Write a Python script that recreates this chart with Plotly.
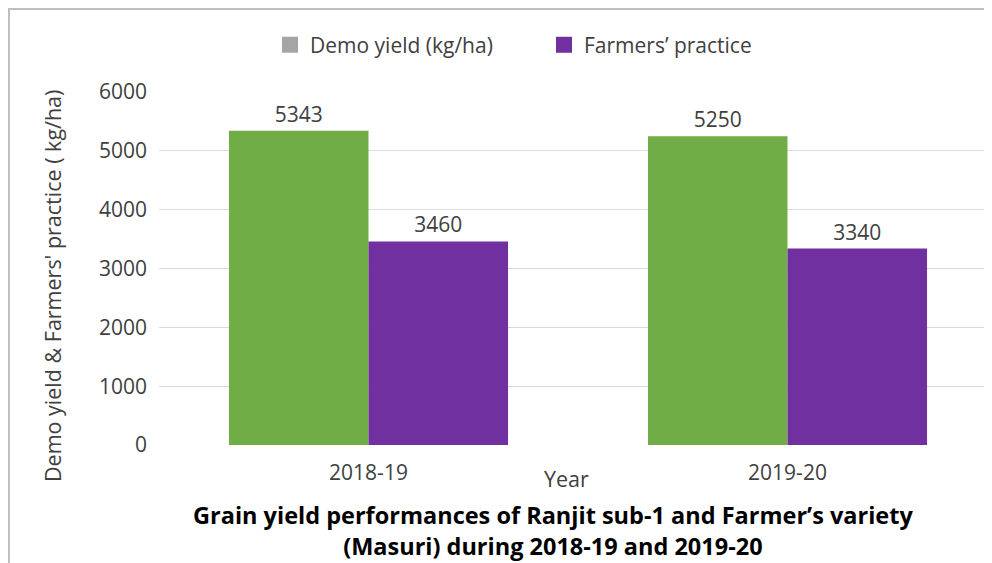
import plotly.graph_objects as go

years = ["2018-19", "2019-20"]
demo_yield = [5343, 5250]
farmers_practice = [3460, 3340]
y_ticks = [0, 1000, 2000, 3000, 4000, 5000, 6000]

FONT = "Open Sans"
TXT = "#404040"

OFF = 8  # page body margin
W, H = 984, 555
L, R, T = 151, 0, 84
B = H - (445 - OFF)
pw, ph = W - L - R, H - T - B

def px_x(x):
    return (x - OFF - L) / pw

def px_y(y):
    return (H - B - (y - OFF)) / ph

fig = go.Figure()
fig.add_trace(go.Bar(
    x=years, y=demo_yield, name="Demo yield (kg/ha)", showlegend=False,
    marker=dict(color="#70AD47", line=dict(width=0)), width=0.333, offset=-0.333,
    text=[str(v) for v in demo_yield], textposition="outside",
    textfont=dict(family=FONT, size=21, color=TXT), cliponaxis=False,
))
fig.add_trace(go.Bar(
    x=years, y=farmers_practice, name="Farmers’ practice", showlegend=False,
    marker=dict(color="#7030A0", line=dict(width=0)), width=0.333, offset=0,
    text=[str(v) for v in farmers_practice], textposition="outside",
    textfont=dict(family=FONT, size=21, color=TXT), cliponaxis=False,
))
fig.add_trace(go.Scatter(
    x=[None], y=[None], mode="markers", name="Demo yield (kg/ha)",
    marker=dict(symbol="square", size=17, color="#A5A5A5"),
))
fig.add_trace(go.Scatter(
    x=[None], y=[None], mode="markers", name="Farmers’ practice",
    marker=dict(symbol="square", size=17, color="#7030A0"),
))

fig.update_layout(
    width=W, height=H,
    margin=dict(l=L, r=R, t=T, b=B),
    paper_bgcolor="white", plot_bgcolor="white",
    font=dict(family=FONT, size=21, color=TXT),
    legend=dict(orientation="h", x=px_x(270), xanchor="left",
                y=px_y(45), yanchor="middle",
                font=dict(family=FONT, size=21, color=TXT),
                itemwidth=30, traceorder="normal", entrywidth=229,
                entrywidthmode="pixels"),
    xaxis=dict(type="category", range=[-0.5, -0.5 + pw / 419],
               showgrid=False, showline=False, ticks="", ticklabelstandoff=13,
               tickfont=dict(family=FONT, size=21, color=TXT)),
    yaxis=dict(range=[0, 6000], tickvals=y_ticks, showgrid=True,
               gridcolor="#D9D9D9", gridwidth=1, zeroline=False,
               showline=False, ticks="", ticklabelstandoff=11,
               tickfont=dict(family=FONT, size=21, color=TXT)),
    shapes=[dict(type="rect", xref="paper", yref="paper",
                 x0=px_x(9), x1=px_x(1100), y0=px_y(700), y1=px_y(9),
                 line=dict(color="#BFBFBF", width=2), layer="below")],
    annotations=[
        dict(text="Demo yield & Farmers' practice ( kg/ha)", textangle=-90,
             xref="paper", yref="paper", x=px_x(52), y=px_y(286),
             xanchor="center", yanchor="middle", showarrow=False,
             font=dict(family=FONT, size=21.5, color=TXT)),
        dict(text="Year", xref="paper", yref="paper", x=px_x(566), y=px_y(478),
             xanchor="center", yanchor="middle", showarrow=False,
             font=dict(family=FONT, size=21.5, color=TXT)),
        dict(text="<b>Grain yield performances of Ranjit sub-1 and Farmer’s variety</b><br><b>(Masuri) during 2018-19 and 2019-20</b>",
             xref="paper", yref="paper", x=px_x(553), y=px_y(530),
             xanchor="center", yanchor="middle", showarrow=False,
             font=dict(family=FONT, size=23.5, color="#000000")),
    ],
)

fig.write_html("out.html")
